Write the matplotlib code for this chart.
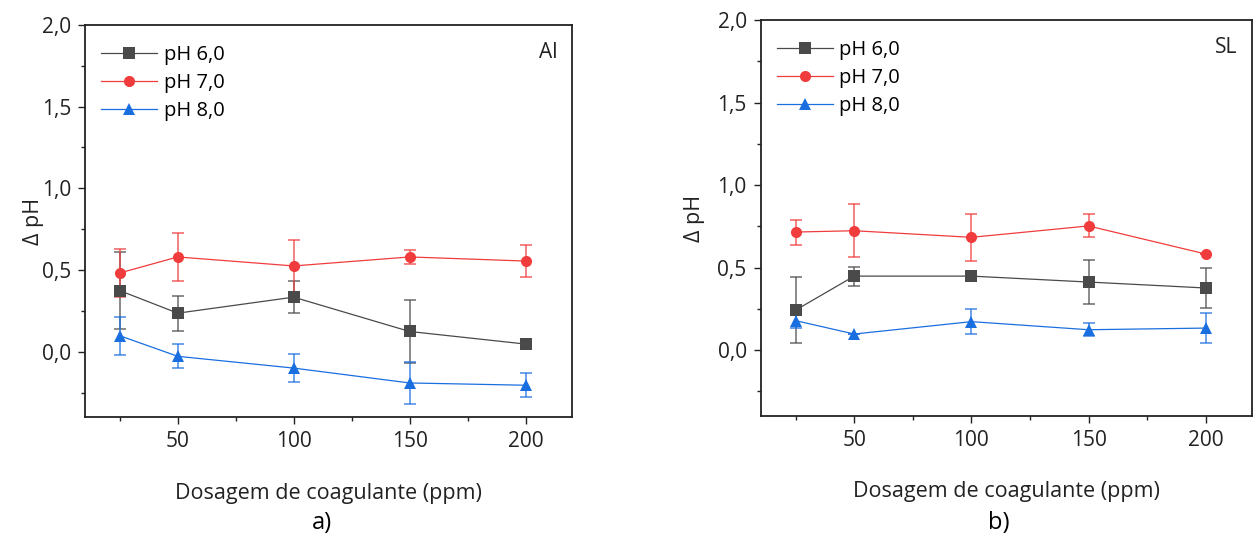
import matplotlib
matplotlib.use("Agg")
import matplotlib.pyplot as plt
from matplotlib.ticker import MultipleLocator, FuncFormatter

plt.rcParams['font.family'] = ['Open Sans', 'DejaVu Sans']

dose = [25, 50, 100, 150, 200]
labels = ["pH 6,0", "pH 7,0", "pH 8,0"]

# Panel a) Al
al_ph6 = [0.374, 0.236, 0.334, 0.124, 0.047]
al_ph6_err = [0.235, 0.108, 0.100, 0.195, 0.0]
al_ph7 = [0.482, 0.580, 0.525, 0.580, 0.555]
al_ph7_err = [0.148, 0.146, 0.157, 0.044, 0.100]
al_ph8 = [0.098, -0.028, -0.100, -0.191, -0.205]
al_ph8_err = [0.116, 0.073, 0.085, 0.126, 0.072]

# Panel b) SL
sl_ph6 = [0.242, 0.448, 0.448, 0.412, 0.376]
sl_ph6_err = [0.200, 0.057, 0.0, 0.135, 0.124]
sl_ph7 = [0.715, 0.723, 0.683, 0.752, 0.582]
sl_ph7_err = [0.076, 0.160, 0.142, 0.070, 0.0]
sl_ph8 = [0.178, 0.097, 0.172, 0.123, 0.133]
sl_ph8_err = [0.047, 0.0, 0.076, 0.038, 0.089]

colors = ["#4a4a4a", "#f03c3c", "#1a6fe0"]
markers = ["s", "o", "^"]

fig = plt.figure(figsize=(12.55, 5.41), dpi=100)
ax1 = fig.add_axes([0.0677, 0.229, 0.388, 0.725])
ax2 = fig.add_axes([0.606, 0.231, 0.392, 0.732])

fmt = FuncFormatter(lambda v, p: f"{v:.1f}".replace(".", ","))

def draw(ax, series, errs, tag, ylab_x):
    for i, (y, e) in enumerate(zip(series, errs)):
        c = colors[i]
        ax.errorbar(dose, y, yerr=e, fmt='none', ecolor=c, elinewidth=1.2,
                    capsize=4, capthick=1.2, alpha=0.75, zorder=2)
        ax.plot(dose, y, color=c, lw=0.9, marker=markers[i], markersize=8,
                markeredgewidth=0, label=labels[i], zorder=3)
    ax.set_xlim(10, 220)
    ax.set_ylim(-0.4, 2.0)
    ax.xaxis.set_major_locator(MultipleLocator(50))
    ax.xaxis.set_minor_locator(MultipleLocator(25))
    ax.yaxis.set_major_locator(MultipleLocator(0.5))
    ax.yaxis.set_minor_locator(MultipleLocator(0.25))
    ax.yaxis.set_major_formatter(fmt)
    ax.set_xticks([50, 100, 150, 200])
    ax.tick_params(which='both', direction='out', top=False, right=False, labelsize=15, colors='#222222')
    ax.tick_params(which='major', length=5, width=1, pad=5)
    ax.tick_params(which='minor', length=3, width=1)
    for s in ax.spines.values():
        s.set_linewidth(1.3)
        s.set_color('#222222')
    ax.set_xlabel("Dosagem de coagulante (ppm)", fontsize=15.5, labelpad=22, color='#222222')
    ax.set_ylabel("Δ pH", fontsize=15.5, color='#222222')
    ax.yaxis.set_label_coords(ylab_x, 0.5)
    ax.legend(loc='upper left', frameon=False, fontsize=14.5, handlelength=2.8,
              labelspacing=0.4, borderaxespad=0.4, handletextpad=0.3,
              bbox_to_anchor=(0.0, 0.99))
    ax.text(0.97, 0.93, tag, transform=ax.transAxes, ha='right', va='center', fontsize=15, color='#222222')

draw(ax1, [al_ph6, al_ph7, al_ph8], [al_ph6_err, al_ph7_err, al_ph8_err], "Al", -0.084)
draw(ax2, [sl_ph6, sl_ph7, sl_ph8], [sl_ph6_err, sl_ph7_err, sl_ph8_err], "SL", -0.112)

fig.text(322 / 1255, 1 - 523 / 541, "a)", ha='center', va='center', fontsize=17)
fig.text(999 / 1255, 1 - 523 / 541, "b)", ha='center', va='center', fontsize=17)

fig.savefig("out.png", dpi=100)
